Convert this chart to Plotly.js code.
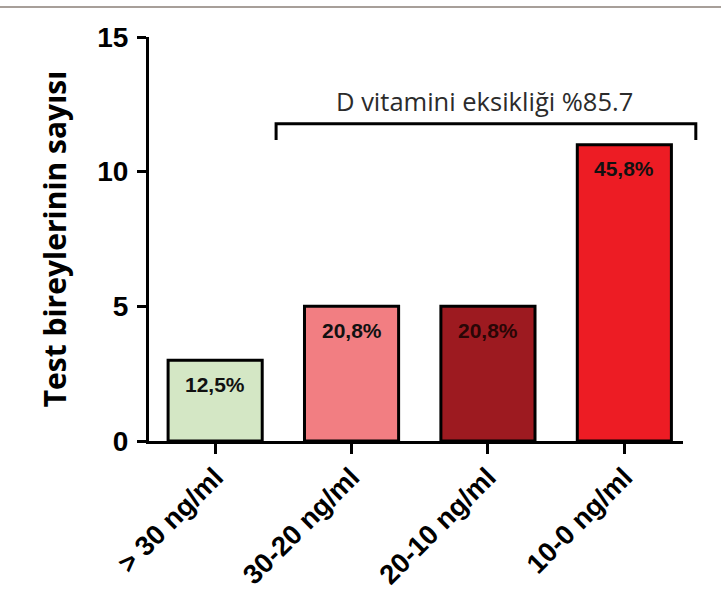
<!DOCTYPE html>
<html>
<head>
<meta charset="utf-8">
<script src="https://cdn.plot.ly/plotly-3.0.1.min.js"></script>
<style>html,body{margin:0;padding:0;background:#fff;}#chart{width:721px;height:594px;}</style>
</head>
<body>
<div id="chart"></div>
<script>
var categories = ['> 30 ng/ml', '30-20 ng/ml', '20-10 ng/ml', '10-0 ng/ml'];
var counts = [3, 5, 5, 11];
var percentLabels = ['12,5%', '20,8%', '20,8%', '45,8%'];
var barColors = ['#d4e7c5', '#f27e82', '#9d1a20', '#ed1c24'];
var bracketLabel = 'D vitamini eksikliği %85.7';
var yTicks = [0, 5, 10, 15];

var trace = {
  type: 'bar',
  x: categories,
  y: counts,
  width: 0.69,
  marker: {color: barColors, line: {color: '#000', width: 3}},
  hoverinfo: 'none'
};

var annotations = categories.map(function(c, i) {
  return {
    x: c, y: counts[i], xref: 'x', yref: 'y',
    text: percentLabels[i], showarrow: false,
    yanchor: 'middle', yshift: -24,
    font: {family: 'Liberation Sans, Arial, sans-serif', size: 21, weight: 700, color: i === 2 ? '#2a0606' : '#111'}
  };
});
annotations.push({
  x: 0.629, y: 0.842, xref: 'paper', yref: 'paper',
  text: bracketLabel, showarrow: false, xanchor: 'center', yanchor: 'middle',
  font: {family: 'Open Sans, sans-serif', size: 25.5, color: '#2b2b2b'}
});

var layout = {
  width: 721, height: 594,
  margin: {l: 149, r: 38, t: 37, b: 153},
  paper_bgcolor: '#fff', plot_bgcolor: '#fff',
  showlegend: false,
  font: {family: 'Liberation Sans, Arial, sans-serif', color: '#000'},
  xaxis: {
    type: 'category', range: [-0.485, 3.43],
    showline: true, linecolor: '#000', linewidth: 3,
    ticks: 'outside', ticklen: 10, tickwidth: 3, tickcolor: '#000',
    tickangle: -45, showgrid: false, zeroline: false, ticklabelstandoff: -4,
    tickfont: {size: 27.5, weight: 700, color: '#000'}
  },
  yaxis: {
    range: [0, 15], tickvals: yTicks, ticktext: yTicks.map(String),
    showline: true, linecolor: '#000', linewidth: 3,
    ticks: 'outside', ticklen: 9, tickwidth: 3, tickcolor: '#000',
    showgrid: false, zeroline: false, ticklabelstandoff: 3,
    tickfont: {size: 28, weight: 700, color: '#000'},
    title: {text: 'Test bireylerinin sayısı', standoff: 22, font: {family: 'Open Sans, sans-serif', size: 30, weight: 700, color: '#000'}}
  },
  shapes: [
    {type: 'line', xref: 'paper', yref: 'paper', x0: -0.3, x1: 1.1, y0: 1.074, y1: 1.074,
     line: {color: '#a79f99', width: 2}},
    {type: 'path', xref: 'paper', yref: 'paper',
     path: 'M 0.238 0.745 L 0.238 0.785 L 1.024 0.785 L 1.024 0.745',
     line: {color: '#000', width: 3}}
  ],
  annotations: annotations
};

Plotly.newPlot('chart', [trace], layout, {displayModeBar: false, staticPlot: true});
</script>
</body>
</html>
